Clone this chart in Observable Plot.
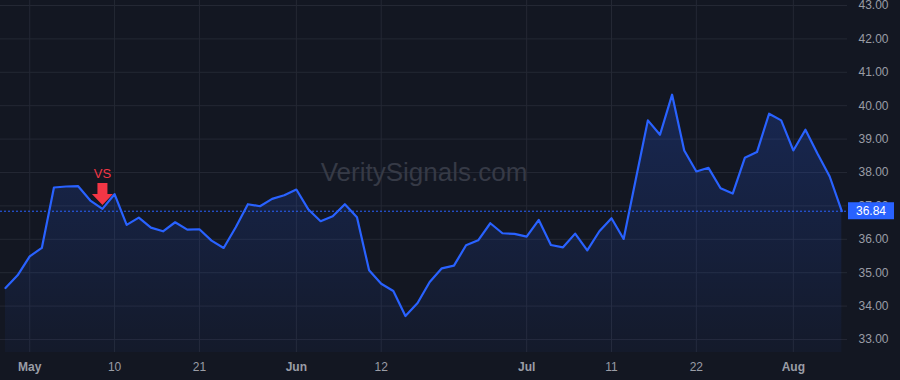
<!DOCTYPE html>
<html>
<head>
<meta charset="utf-8">
<script src="https://cdn.jsdelivr.net/npm/d3@7"></script>
<script src="https://cdn.jsdelivr.net/npm/@observablehq/plot@0.6"></script>
<style>
  html, body { margin: 0; padding: 0; background: #131722; }
  #chart svg { display: block; }
</style>
</head>
<body>
<div id="chart"></div>
<script>
// ---- data ----
const dates = [
  "2024-04-29","2024-04-30","2024-05-01","2024-05-02","2024-05-03",
  "2024-05-06","2024-05-07","2024-05-08","2024-05-09","2024-05-10",
  "2024-05-13","2024-05-14","2024-05-15","2024-05-16","2024-05-17",
  "2024-05-20","2024-05-21","2024-05-22","2024-05-23","2024-05-24",
  "2024-05-28","2024-05-29","2024-05-30","2024-05-31",
  "2024-06-03","2024-06-04","2024-06-05","2024-06-06","2024-06-07",
  "2024-06-10","2024-06-11","2024-06-12","2024-06-13","2024-06-14",
  "2024-06-17","2024-06-18","2024-06-20","2024-06-21",
  "2024-06-24","2024-06-25","2024-06-26","2024-06-27","2024-06-28",
  "2024-07-01","2024-07-02","2024-07-03","2024-07-05",
  "2024-07-08","2024-07-09","2024-07-10","2024-07-11","2024-07-12",
  "2024-07-15","2024-07-16","2024-07-17","2024-07-18","2024-07-19",
  "2024-07-22","2024-07-23","2024-07-24","2024-07-25","2024-07-26",
  "2024-07-29","2024-07-30","2024-07-31","2024-08-01","2024-08-02",
  "2024-08-05","2024-08-06","2024-08-07"
];
const closes = [
  34.54, 34.92, 35.49, 35.74, 37.55,
  37.58, 37.59, 37.16, 36.91, 37.35,
  36.43, 36.65, 36.35, 36.24, 36.51,
  36.29, 36.30, 35.96, 35.74, 36.36,
  37.05, 36.99, 37.21, 37.32,
  37.49, 36.89, 36.54, 36.69, 37.05,
  36.66, 35.07, 34.67, 34.45, 33.70,
  34.09, 34.72, 35.13, 35.21,
  35.82, 35.97, 36.48, 36.18, 36.16,
  36.08, 36.58, 35.83, 35.76,
  36.17, 35.67, 36.24, 36.63, 36.01,
  37.79, 39.56, 39.13, 40.33, 38.66,
  38.03, 38.14, 37.53, 37.37, 38.44,
  38.61, 39.76, 39.56, 38.66, 39.28,
  38.56, 37.88, 36.84
];
const monthTickDates = ["2024-05-01","2024-06-03","2024-07-01","2024-08-01"];
const monthTickLabels = ["May","Jun","Jul","Aug"];
const dayTickDates = ["2024-05-10","2024-05-21","2024-06-12","2024-07-11","2024-07-22"];
const dayTickLabels = ["10","21","12","11","22"];
const yTicks = [33, 34, 35, 36, 37, 38, 39, 40, 41, 42, 43];
const signalDates = ["2024-05-09"];
const signalLabels = ["VS"];
const watermark = "VeritySignals.com";

// ---- derived tables ----
const idx = new Map(dates.map((d, i) => [d, i]));
const data = dates.map((d, i) => ({i, date: d, close: closes[i]}));
const lastClose = closes[closes.length - 1];
const tickLabel = new Map([
  ...monthTickDates.map((d, k) => [idx.get(d), monthTickLabels[k]]),
  ...dayTickDates.map((d, k) => [idx.get(d), dayTickLabels[k]])
]);
const monthTicks = monthTickDates.map(d => idx.get(d));
const dayTicks = dayTickDates.map(d => idx.get(d));
const allTicks = [...monthTicks, ...dayTicks];
const signals = signalDates.map((d, k) => ({i: idx.get(d), close: closes[idx.get(d)], label: signalLabels[k]}));

const yDomain = [32.61, 43.15];
const xDomain = [-0.41, dates.length - 1 + 0.47];

const textColor = "#9a9da6";
const gridColor = "#242834";
const blue = "#2962ff";
const red = "#f23645";

const ns = "http://www.w3.org/2000/svg";
function defsMark() {
  const defs = document.createElementNS(ns, "defs");
  defs.innerHTML = `<linearGradient id="areaGrad" x1="0" y1="0" x2="0" y2="1">
    <stop offset="0" stop-color="${blue}" stop-opacity="0.22"/>
    <stop offset="1" stop-color="${blue}" stop-opacity="0.04"/>
  </linearGradient>`;
  return defs;
}

const arrowSymbol = {
  draw(ctx) {
    ctx.moveTo(-5, -22);
    ctx.lineTo(5, -22);
    ctx.lineTo(5, -11);
    ctx.lineTo(10.5, -11);
    ctx.lineTo(0, 0);
    ctx.lineTo(-10.5, -11);
    ctx.lineTo(-5, -11);
    ctx.closePath();
  }
};

function priceLabel(index, scales, values, dims) {
  const g = document.createElementNS(ns, "g");
  const y = scales.y(lastClose);
  const x0 = dims.width - dims.marginRight + 1;
  const rect = document.createElementNS(ns, "rect");
  rect.setAttribute("x", x0);
  rect.setAttribute("y", y - 8.5);
  rect.setAttribute("width", 46);
  rect.setAttribute("height", 17);
  rect.setAttribute("fill", blue);
  g.appendChild(rect);
  const t = document.createElementNS(ns, "text");
  t.setAttribute("x", x0 + 23);
  t.setAttribute("y", y);
  t.setAttribute("dy", "0.35em");
  t.setAttribute("text-anchor", "middle");
  t.setAttribute("fill", "#ffffff");
  t.setAttribute("font-size", 12);
  t.textContent = lastClose.toFixed(2);
  g.appendChild(t);
  return g;
}

const chart = Plot.plot({
  width: 900,
  height: 380,
  marginTop: 0,
  marginLeft: 0,
  marginRight: 53,
  marginBottom: 28,
  style: {background: "#131722", fontFamily: "'Liberation Sans', Arial, sans-serif", overflow: "visible"},
  x: {type: "linear", domain: xDomain},
  y: {domain: yDomain},
  marks: [
    defsMark,
    Plot.gridY(yTicks, {stroke: gridColor, strokeOpacity: 1}),
    Plot.gridX(allTicks, {stroke: gridColor, strokeOpacity: 1}),
    Plot.text([watermark], {frameAnchor: "middle", dy: -4, fontSize: 26, fill: "#363a46"}),
    Plot.areaY(data, {x: "i", y1: yDomain[0], y2: "close", fill: "url(#areaGrad)"}),
    Plot.lineY(data, {x: "i", y: "close", stroke: blue, strokeWidth: 2.2}),
    Plot.ruleY([lastClose], {stroke: blue, strokeWidth: 1, strokeDasharray: "2,2"}),
    Plot.dot(signals, {x: "i", y: "close", symbol: arrowSymbol, fill: red, stroke: "none", dy: -4}),
    Plot.text(signals, {x: "i", y: "close", text: "label", dy: -35, fill: red, fontSize: 13}),
    Plot.axisY(yTicks, {anchor: "right", label: null, tickSize: 0, tickPadding: 11, fontSize: 12, fill: textColor, tickFormat: d => d.toFixed(2)}),
    Plot.axisX(monthTicks, {anchor: "bottom", label: null, tickSize: 0, tickPadding: 10, fontSize: 12, fontWeight: "bold", fill: textColor, tickFormat: i => tickLabel.get(i)}),
    Plot.axisX(dayTicks, {anchor: "bottom", label: null, tickSize: 0, tickPadding: 10, fontSize: 12, fill: textColor, tickFormat: i => tickLabel.get(i)}),
    priceLabel
  ]
});
document.getElementById("chart").appendChild(chart);
</script>
</body>
</html>
